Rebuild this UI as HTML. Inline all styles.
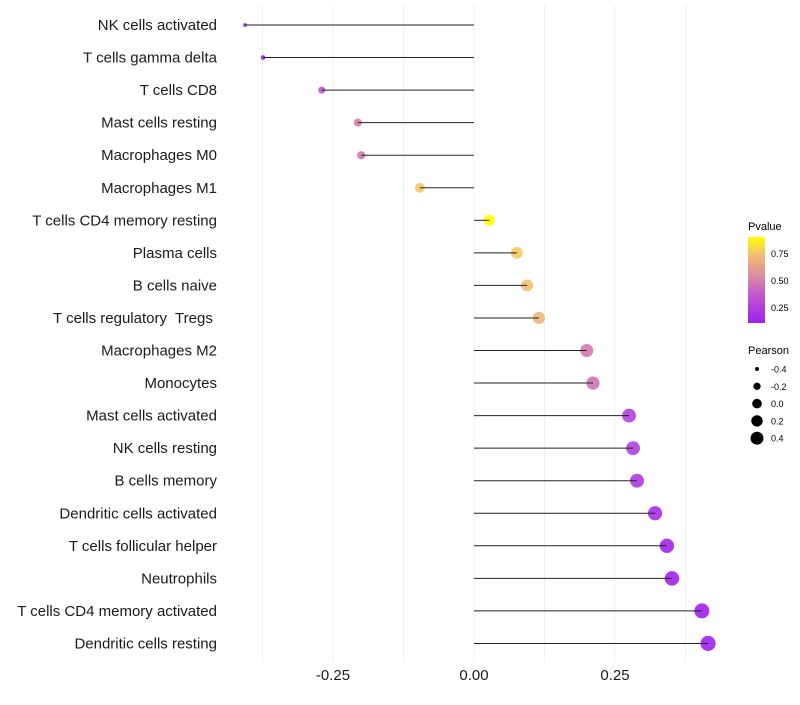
<!DOCTYPE html>
<html><head><meta charset="utf-8"><style>
body{margin:0;background:#fff;font-family:"Liberation Sans",sans-serif}
text{white-space:pre}
</style></head><body>
<svg id="chart" width="800" height="700" xmlns="http://www.w3.org/2000/svg" font-family="Liberation Sans, sans-serif">
<defs><linearGradient id="pg" x1="0" y1="1" x2="0" y2="0">
<stop offset="0" stop-color="#a020f0"/><stop offset="0.35" stop-color="#c45cc8"/><stop offset="0.55" stop-color="#db8ca0"/><stop offset="0.8" stop-color="#f3c070"/><stop offset="1" stop-color="#ffff00"/></linearGradient></defs>
<g id="grid"></g>
<g id="marks"></g>
<g id="labels"></g>
<g id="xticks"></g>
<g>
<text x="748" y="230" font-size="11">Pvalue</text>
<rect x="748" y="237" width="17" height="86" fill="url(#pg)"/>
<text x="771" y="257" font-size="9">0.75</text>
<text x="771" y="284" font-size="9">0.50</text>
<text x="771" y="311" font-size="9">0.25</text>
</g>
<g id="sizeleg">
<text x="748" y="354" font-size="11">Pearson</text>
</g>
</svg>
<script>
const categories=["NK cells activated","T cells gamma delta","T cells CD8","Mast cells resting","Macrophages M0","Macrophages M1","T cells CD4 memory resting","Plasma cells","B cells naive","T cells regulatory  Tregs ","Macrophages M2","Monocytes","Mast cells activated","NK cells resting","B cells memory","Dendritic cells activated","T cells follicular helper","Neutrophils","T cells CD4 memory activated","Dendritic cells resting"];
const pearson=[-0.406,-0.374,-0.27,-0.206,-0.2,-0.096,0.027,0.076,0.094,0.115,0.2,0.211,0.275,0.282,0.289,0.321,0.342,0.351,0.404,0.415];
const pvalue=[0.05,0.1,0.35,0.5,0.48,0.75,0.92,0.76,0.74,0.7,0.48,0.46,0.25,0.25,0.22,0.16,0.13,0.11,0.07,0.05];
const xTicks=[-0.25,0,0.25];
const xTickLabels=["-0.25","0.00","0.25"];
const gridVals=[-0.375,-0.25,-0.125,0,0.125,0.25,0.375];
const sizeLegend=[-0.4,-0.2,0,0.2,0.4];
const sizeLegendLabels=["-0.4","-0.2","0.0","0.2","0.4"];
const NS="http://www.w3.org/2000/svg";
const x=v=>474+v*564;
const y=i=>25+i*32.55;
const r=v=>Math.sqrt(4+(v+0.4)/0.8*52);
const stops=[[0,[160,32,240]],[0.35,[196,92,200]],[0.55,[219,140,160]],[0.8,[243,192,112]],[1,[255,255,0]]];
function col(p){const t=Math.max(0,Math.min(1,(p-0.1)/0.8));for(let k=1;k<stops.length;k++){if(t<=stops[k][0]){const a=stops[k-1],b=stops[k],f=(t-a[0])/(b[0]-a[0]);return "rgb("+a[1].map((c,j)=>Math.round(c+(b[1][j]-c)*f)).join(",")+")";}}return "rgb(255,255,0)";}
function mk(tag,at,parent){const e=document.createElementNS(NS,tag);for(const k in at)e.setAttribute(k,at[k]);document.getElementById(parent).appendChild(e);return e;}
gridVals.forEach(g=>{const l=mk("line",{x1:x(g),x2:x(g),y1:5,y2:662,stroke:"#f0f0f0","stroke-width":1},"grid");

});
categories.forEach((c,i)=>{
const d=mk("circle",{cx:x(pearson[i]),cy:y(i),r:r(pearson[i]),fill:col(pvalue[i]),"fill-opacity":0.9},"marks");


const l=mk("line",{x1:x(0),x2:x(pearson[i]),y1:y(i),y2:y(i),stroke:"#222","stroke-width":1},"marks");


const t=mk("text",{x:217,y:y(i)+5,"text-anchor":"end","font-size":15,fill:"#1a1a1a"},"labels");


t.textContent=c;});
xTicks.forEach((v,i)=>{const t=mk("text",{x:x(v),y:680,"text-anchor":"middle","font-size":15,fill:"#1a1a1a"},"xticks");


t.textContent=xTickLabels[i];});
sizeLegend.forEach((v,i)=>{const cy=369+i*17.3;
const c=mk("circle",{cx:757,cy:cy,r:Math.sqrt(4+(v+0.4)/0.8*38),fill:"#000"},"sizeleg");


const t=mk("text",{x:771,y:cy+3.5,"font-size":9},"sizeleg");


t.textContent=sizeLegendLabels[i];});
</script>
</body></html>
